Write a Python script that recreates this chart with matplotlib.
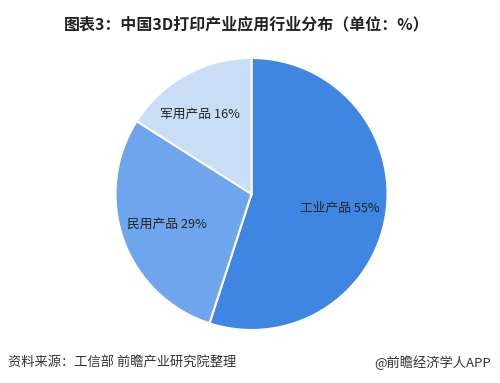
import matplotlib
matplotlib.use("Agg")
import matplotlib.pyplot as plt

plt.rcParams['font.family'] = ['Noto Sans CJK SC', 'DejaVu Sans']

categories = ["工业产品", "民用产品", "军用产品"]
values = [55, 29, 16]
colors = ["#3e86e1", "#6fa5ec", "#c9ddf7"]

title = "图表3：中国3D打印产业应用行业分布（单位：%）"
source = "资料来源：工信部 前瞻产业研究院整理"
credit = "@前瞻经济学人APP"

W, H = 500, 383
fig = plt.figure(figsize=(W / 100, H / 100), dpi=100)
fig.patch.set_facecolor("white")

cx, cy, r = 251.5, 194, 136
ax = fig.add_axes([(cx - r) / W, (H - cy - r) / H, 2 * r / W, 2 * r / H])
labels = [f"{c} {v}%" for c, v in zip(categories, values)]
wedges, texts = ax.pie(values, labels=labels, colors=colors, startangle=90,
                       counterclock=False, labeldistance=0.66,
                       wedgeprops=dict(edgecolor="white", linewidth=1.5),
                       textprops=dict(fontsize=9.2, color="#222222",
                                      ha="center", va="center"))
for t in texts:
    t.set_ha("center")
# small nudge for the top-left label
x0, y0 = texts[2].get_position()
texts[2].set_position((x0 - 0.06, y0 + 0.01))
ax.set_xlim(-1, 1)
ax.set_ylim(-1, 1)
ax.axis("off")

fig.text(247 / W, 1 - 24 / H, title, ha="center", va="center",
         fontsize=11.5, fontweight="bold", color="#222222")
fig.text(8 / W, 1 - 363 / H, source, ha="left", va="center",
         fontsize=9.5, style="italic", color="#333333")
fig.text(491 / W, 1 - 363 / H, credit, ha="right", va="center",
         fontsize=9.5, color="#333333")

fig.savefig("out.png", dpi=100, facecolor="white")
